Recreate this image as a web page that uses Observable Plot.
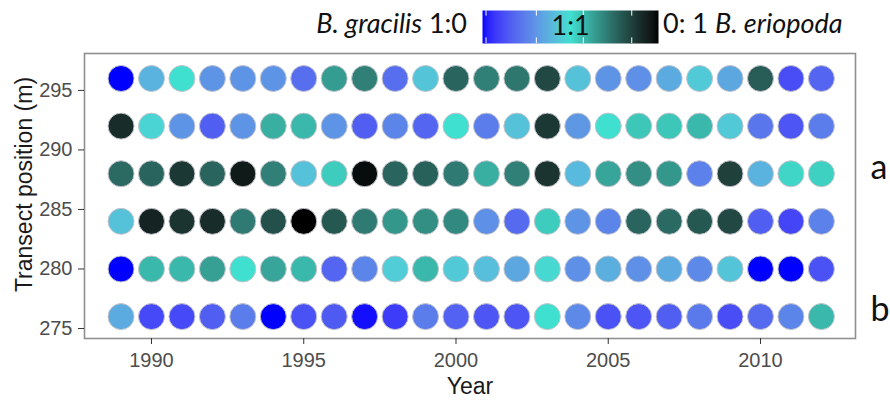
<!DOCTYPE html>
<html>
<head>
<meta charset="utf-8">
<script src="https://cdn.jsdelivr.net/npm/d3@7"></script>
<script src="https://cdn.jsdelivr.net/npm/@observablehq/plot@0.6"></script>
<style>
  html, body { margin: 0; padding: 0; background: #fff; }
  #wrap { width: 890px; position: relative; }
  #legend { position: relative; width: 890px; height: 50px; font-family: Lato, "Open Sans", sans-serif; font-size: 27px; color: #111; }
  #legend .lbl { position: absolute; top: 8px; line-height: 30px; white-space: nowrap; }
  #legend .lbl i { font-style: italic; }
  #ramp { position: absolute; left: 482px; top: 10px; width: 176px; height: 33px; }
</style>
</head>
<body>
<div id="wrap">
  <div id="legend">
    <span class="lbl" style="right:423px"><i>B. gracilis</i> 1:0</span>
    <div id="ramp"></div>
    <span class="lbl" style="left:663px">0: 1 <i>B. eriopoda</i></span>
  </div>
  <div id="chart"></div>
</div>
<script>
// Survey years (columns) and transect positions in metres (rows)
const years = [1989, 1990, 1991, 1992, 1993, 1994, 1995, 1996, 1997, 1998, 1999, 2000,
               2001, 2002, 2003, 2004, 2005, 2006, 2007, 2008, 2009, 2010, 2011, 2012];
const positions = [296, 292, 288, 284, 280, 276];

// Share of B. eriopoda (0 = only B. gracilis, 0.5 = 1:1, 1 = only B. eriopoda), one array per row
const share296 = [0.00, 0.38, 0.50, 0.30, 0.30, 0.30, 0.20, 0.64, 0.70, 0.20, 0.43, 0.76,
                  0.70, 0.72, 0.83, 0.42, 0.30, 0.29, 0.36, 0.44, 0.35, 0.78, 0.12, 0.18];
const share292 = [0.90, 0.47, 0.30, 0.16, 0.30, 0.60, 0.58, 0.30, 0.16, 0.26, 0.18, 0.50,
                  0.24, 0.42, 0.87, 0.31, 0.50, 0.55, 0.55, 0.58, 0.44, 0.22, 0.14, 0.24];
const share288 = [0.75, 0.76, 0.87, 0.76, 0.95, 0.70, 0.42, 0.54, 0.98, 0.76, 0.77, 0.71,
                  0.60, 0.70, 0.88, 0.40, 0.62, 0.67, 0.65, 0.25, 0.85, 0.38, 0.52, 0.53];
const share284 = [0.42, 0.92, 0.88, 0.90, 0.71, 0.81, 1.00, 0.79, 0.71, 0.65, 0.67, 0.68,
                  0.29, 0.19, 0.54, 0.30, 0.26, 0.76, 0.75, 0.79, 0.83, 0.16, 0.10, 0.25];
const share280 = [0.00, 0.58, 0.58, 0.63, 0.50, 0.62, 0.58, 0.18, 0.26, 0.45, 0.58, 0.44,
                  0.41, 0.35, 0.48, 0.29, 0.37, 0.29, 0.36, 0.27, 0.43, 0.00, 0.00, 0.13];
const share276 = [0.36, 0.11, 0.11, 0.16, 0.24, 0.00, 0.13, 0.15, 0.01, 0.08, 0.24, 0.17,
                  0.14, 0.14, 0.50, 0.27, 0.13, 0.14, 0.16, 0.23, 0.12, 0.19, 0.26, 0.58];
const shareRows = [share296, share292, share288, share284, share280, share276];

// Axis ticks, colour-bar breaks and panel tags
const xTicks = [1990, 1995, 2000, 2005, 2010];
const yTicks = [275, 280, 285, 290, 295];
const legendBreaks = [0.02, 0.306, 0.573, 0.848];
const panelTags = [{label: "a", pos: 288}, {label: "b", pos: 276}];

const cells = positions.flatMap((pos, i) =>
  years.map((year, j) => ({year, pos, share: shareRows[i][j]}))
);

const colorScale = {
  type: "linear",
  domain: [0, 0.5, 1],
  range: ["blue", "turquoise", "black"],
  interpolate: "lab"
};

// Colour bar
const ramp = Plot.plot({
  width: 176, height: 33,
  margin: 0,
  x: {domain: [0, 1], axis: null},
  y: {domain: [0, 1], axis: null},
  color: colorScale,
  style: {background: "transparent", overflow: "visible"},
  marks: [
    Plot.raster({fill: (x, y) => x, x1: 0, y1: 0, x2: 1, y2: 1}),
    Plot.ruleX(legendBreaks, {x: d => d, y1: 0, y2: 0.17, stroke: "white", strokeWidth: 1}),
    Plot.ruleX(legendBreaks, {x: d => d, y1: 0.83, y2: 1, stroke: "white", strokeWidth: 1}),
    Plot.text(["1:1"], {x: 0.5, y: 0.5, text: d => d, fontSize: 27, fontFamily: "Lato, 'Open Sans', sans-serif", fill: "#111", dy: -1})
  ]
});
document.getElementById("ramp").append(ramp);

// Main dot grid
const chart = Plot.plot({
  width: 890,
  height: 355,
  marginLeft: 84,
  marginRight: 35,
  marginTop: 3,
  marginBottom: 67,
  style: {fontFamily: "'Liberation Sans', Arial, sans-serif", background: "white", overflow: "visible"},
  x: {domain: [1987.8, 2013.12]},
  y: {domain: [274.16, 298.1]},
  color: colorScale,
  marks: [
    Plot.frame({stroke: "#8f8f8f", strokeWidth: 1.6}),
    Plot.axisX({ticks: xTicks, tickFormat: d => String(d), tickSize: 6, tickPadding: 8,
                fontSize: 20, fill: "#4d4d4d", stroke: "#333", label: null}),
    Plot.axisY({ticks: yTicks, tickFormat: d => String(d), tickSize: 6, tickPadding: 6,
                fontSize: 20, fill: "#4d4d4d", stroke: "#333", label: null}),
    Plot.dot(cells, {x: "year", y: "pos", fill: "share", r: 13, stroke: "#c4c4cc", strokeWidth: 1}),
    Plot.text(["Year"], {text: d => d, frameAnchor: "bottom", lineAnchor: "bottom", dy: 55,
                         fontSize: 23, fill: "#1a1a1a"}),
    Plot.text(["Transect position (m)"], {text: d => d, frameAnchor: "left", textAnchor: "middle",
                         rotate: -90, dx: -60, dy: -11.5, fontSize: 23, fill: "#1a1a1a"}),
    Plot.text(panelTags, {y: "pos", text: "label", frameAnchor: "right", textAnchor: "start",
                         dx: 15, dy: -6, fontSize: 34, fontFamily: "Lato, 'Open Sans', sans-serif", fill: "#111"})
  ]
});
document.getElementById("chart").append(chart);
</script>
</body>
</html>
